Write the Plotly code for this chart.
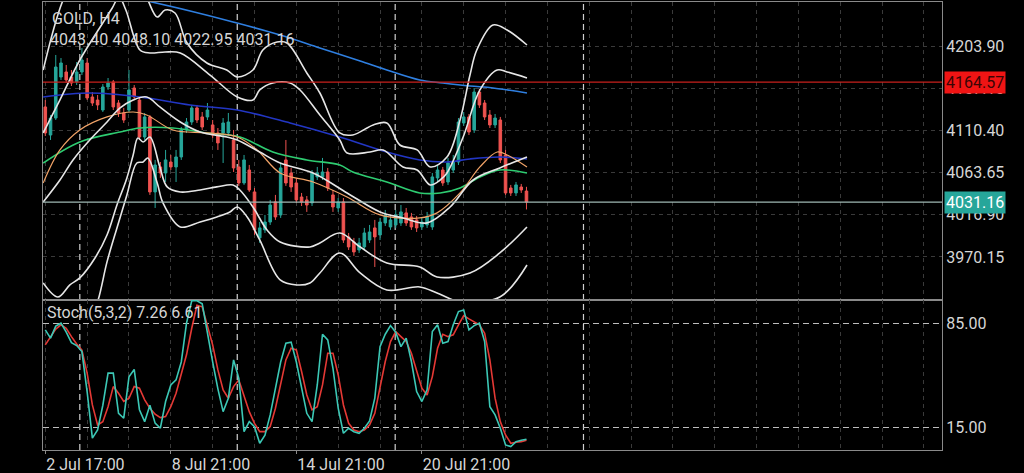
"""GOLD H4 chart: candles with moving averages, Bollinger bands and a Stochastic panel."""
import plotly.graph_objects as go
from plotly.subplots import make_subplots

# --- candles (bar index 0..92, H4) ---
opens = [4136.9, 4105.7, 4124.6, 4170.2, 4175.8, 4170.2, 4164.7, 4175.8, 4185.8, 4148.0,
         4144.6, 4133.5, 4159.1, 4164.7, 4141.3, 4130.2, 4133.5, 4158.0, 4144.6, 4103.5,
         4125.8, 4042.4, 4070.2, 4063.5, 4075.7, 4070.2, 4081.3, 4111.3, 4120.2, 4135.8,
         4125.8, 4125.8, 4116.9, 4108.0, 4108.0, 4108.0, 4100.2, 4070.2, 4052.4, 4066.8,
         4042.4, 3991.3, 4000.2, 4009.0, 4031.3, 4016.8, 4078.0, 4063.5, 4052.4, 4036.8,
         4033.5, 4030.2, 4059.1, 4059.1, 4064.6, 4039.1, 4024.6, 4031.3, 3992.4, 3986.8,
         3977.9, 3981.3, 3989.0, 4002.4, 3994.6, 4007.9, 4003.5, 4005.7, 4007.9, 4019.1,
         4014.6, 4011.3, 4003.5, 4005.7, 4003.5, 4058.0, 4066.8, 4053.5, 4066.8, 4075.7,
         4119.1, 4125.8, 4111.3, 4153.5, 4141.3, 4128.0, 4116.9, 4122.4, 4083.5, 4046.8,
         4041.3, 4047.9, 4043.40]
highs = [4144.6, 4128.0, 4194.7, 4191.3, 4183.6, 4178.0, 4186.9, 4202.4, 4191.3, 4153.5,
         4150.2, 4162.4, 4169.1, 4166.9, 4144.6, 4135.8, 4178.0, 4161.3, 4148.0, 4130.2,
         4128.0, 4078.0, 4075.7, 4089.1, 4083.5, 4089.1, 4114.6, 4124.6, 4139.1, 4139.1,
         4131.3, 4141.3, 4122.4, 4113.5, 4124.6, 4130.2, 4111.3, 4078.0, 4083.5, 4072.4,
         4046.8, 4009.0, 4016.8, 4033.5, 4039.1, 4074.6, 4100.2, 4069.1, 4058.0, 4041.3,
         4037.9, 4066.8, 4070.2, 4080.2, 4069.1, 4044.6, 4035.7, 4035.7, 3996.8, 3991.3,
         3991.3, 4002.4, 4005.7, 4011.3, 4013.5, 4022.4, 4016.8, 4022.4, 4027.9, 4024.6,
         4019.1, 4015.7, 4013.5, 4020.2, 4063.5, 4072.4, 4070.2, 4080.2, 4083.5, 4124.6,
         4131.3, 4129.1, 4158.0, 4156.9, 4144.6, 4133.5, 4129.1, 4125.8, 4089.1, 4050.2,
         4053.5, 4051.3, 4048.10]
lows = [4104.6, 4100.2, 4122.4, 4166.9, 4163.5, 4160.2, 4161.3, 4172.4, 4144.6, 4138.0,
        4133.5, 4131.3, 4155.8, 4133.5, 4125.8, 4119.1, 4131.3, 4144.6, 4100.2, 4100.2,
        4039.1, 4024.6, 4058.0, 4053.5, 4066.8, 4053.5, 4078.0, 4108.0, 4116.9, 4119.1,
        4111.3, 4122.4, 4102.4, 4089.1, 4074.6, 4104.6, 4064.6, 4049.1, 4050.2, 4042.4,
        3994.6, 3985.7, 3996.8, 4005.7, 4011.3, 4013.5, 4049.1, 4042.4, 4030.2, 4026.8,
        4020.2, 4026.8, 4055.7, 4055.7, 4043.5, 4020.2, 4020.2, 3985.7, 3977.9, 3971.3,
        3974.6, 3977.9, 3985.7, 3959.0, 3989.0, 4004.6, 4000.2, 4002.4, 4004.6, 4004.6,
        4000.2, 3997.9, 4000.2, 4002.4, 4000.2, 4053.5, 4049.1, 4050.2, 4063.5, 4072.4,
        4115.8, 4105.7, 4108.0, 4135.8, 4122.4, 4113.5, 4113.5, 4074.6, 4039.1, 4037.9,
        4037.9, 4041.3, 4022.95]
closes = [4108.0, 4124.6, 4181.3, 4185.8, 4166.9, 4163.5, 4175.8, 4189.1, 4146.9, 4141.3,
          4139.1, 4159.1, 4163.5, 4136.9, 4130.2, 4122.4, 4155.8, 4148.0, 4103.5, 4125.8,
          4042.4, 4072.4, 4063.5, 4078.0, 4070.2, 4081.3, 4111.3, 4120.2, 4135.8, 4122.4,
          4114.6, 4133.5, 4105.7, 4096.9, 4119.1, 4120.2, 4069.1, 4052.4, 4078.0, 4044.6,
          4000.2, 4002.4, 4009.0, 4027.9, 4014.6, 4069.1, 4052.4, 4047.9, 4033.5, 4031.3,
          4027.9, 4063.5, 4063.5, 4064.6, 4046.8, 4025.7, 4031.3, 3989.0, 3981.3, 3975.7,
          3985.7, 3996.8, 3997.9, 3992.4, 4009.0, 4016.8, 4011.3, 4016.8, 4020.2, 4007.9,
          4003.5, 4002.4, 4009.0, 4014.6, 4059.1, 4066.8, 4052.4, 4074.6, 4075.7, 4120.2,
          4125.8, 4109.1, 4153.5, 4139.1, 4125.8, 4116.9, 4124.6, 4078.0, 4041.3, 4041.3,
          4050.2, 4044.6, 4031.16]
bars = list(range(len(closes)))

# --- stochastic (5,3,2) ---
stoch_k = [80.5, 75.0, 83.0, 85.0, 79.0, 72.0, 70.0, 66.0, 39.0, 8.0,
           13.5, 30.0, 51.5, 51.5, 24.6, 21.3, 49.0, 54.0, 27.0, 19.0,
           30.0, 18.0, 14.6, 32.5, 43.6, 47.0, 59.0, 85.0, 100.0, 100.0,
           98.0, 77.0, 59.0, 41.0, 25.7, 34.7, 60.4, 48.0, 12.3, 19.0,
           15.7, 4.5, 10.0, 23.5, 41.0, 59.0, 71.6, 72.3, 59.0, 41.0,
           24.6, 19.0, 43.6, 77.6, 73.8, 54.8, 28.0, 11.2, 14.6, 12.3,
           11.2, 14.6, 19.5, 34.7, 69.3, 77.6, 83.4, 79.0, 69.3, 75.0,
           59.3, 39.2, 32.5, 40.3, 79.4, 83.9, 71.6, 72.7, 83.9, 92.8,
           93.9, 80.5, 83.4, 85.0, 72.7, 29.0, 23.5, 14.6, 3.4, 2.3,
           5.6, 6.5, 7.26]
stoch_d = [70.5, 75.4, 81.0, 83.9, 81.6, 76.0, 71.0, 67.0, 51.5, 30.2,
           16.8, 19.0, 29.0, 42.5, 38.0, 32.5, 34.7, 42.5, 41.4, 33.6,
           28.0, 24.0, 21.7, 22.4, 29.0, 38.0, 50.3, 63.8, 81.6, 97.0,
           96.0, 83.9, 70.5, 53.7, 40.3, 34.7, 42.5, 47.0, 36.9, 25.7,
           17.9, 12.3, 12.3, 15.7, 28.0, 44.8, 60.4, 68.2, 67.1, 52.6,
           36.9, 26.9, 29.0, 43.6, 64.9, 64.9, 50.3, 30.2, 17.9, 13.4,
           12.3, 13.4, 16.8, 24.6, 41.4, 59.3, 72.7, 79.4, 76.0, 72.7,
           64.9, 52.6, 41.4, 36.9, 49.2, 68.2, 77.6, 76.0, 77.2, 83.9,
           90.1, 87.9, 85.7, 83.9, 78.3, 60.4, 34.7, 19.0, 10.1, 4.5,
           5.2, 5.6, 6.61]

# --- moving averages (sampled at bar positions) ---
ma_long_x = [-0.4, 15.2, 18.7, 27.7, 35.9, 44.9, 52.5, 60.2, 65.3, 71.6, 76.0, 81.2, 85.6, 92.1]
ma_long_y = [4283.6, 4260.3, 4255.8, 4243.6, 4231.4, 4216.9, 4202.5, 4188.0, 4178.0, 4166.9,
             4163.6, 4160.2, 4158.0, 4152.4]
ma_blue_x = [-0.4, 8.5, 18.1, 27.7, 36.7, 46.8, 56.3, 65.3, 71.6, 76.8, 81.2, 86.9, 92.1]
ma_blue_y = [4148.0, 4152.4, 4148.0, 4139.1, 4133.5, 4119.1, 4103.5, 4086.8, 4078.0, 4075.7,
             4079.1, 4081.3, 4079.1]
ma_green_x = [-0.4, 6.6, 14.3, 18.1, 24.4, 30.9, 37.2, 43.5, 50.0, 56.3, 58.8, 65.3, 71.6,
              75.5, 79.3, 83.1, 86.9, 92.1]
ma_green_y = [4074.6, 4098.0, 4109.1, 4113.5, 4113.5, 4108.0, 4103.5, 4086.8, 4078.0, 4072.4,
              4064.6, 4053.5, 4041.3, 4041.3, 4046.9, 4059.1, 4066.8, 4063.5]
ma_orange_x = [-0.4, 2.8, 6.6, 11.8, 16.8, 19.4, 24.4, 30.9, 36.7, 40.5, 44.9, 51.2, 57.7,
               64.0, 71.6, 74.9, 79.3, 83.1, 86.4, 88.3, 92.1]
ma_orange_y = [4052.4, 4089.1, 4111.3, 4125.8, 4131.3, 4128.0, 4111.3, 4108.0, 4103.5, 4089.1,
               4063.5, 4053.5, 4036.8, 4016.9, 4013.5, 4019.1, 4041.3, 4070.2, 4086.8, 4083.5,
               4070.2]

# --- Bollinger bands ---
bb_mid_x = [-0.4, 2.8, 5.3, 8.5, 11.8, 14.3, 16.8, 19.4, 21.9, 25.8, 29.6, 34.7, 36.7, 41.0,
            44.9, 51.2, 57.7, 64.0, 68.4, 73.0, 77.4, 81.8, 86.9, 92.1]
bb_mid_y = [4031.3, 4055.7, 4078.0, 4100.2, 4120.2, 4135.8, 4144.7, 4148.0, 4136.9, 4120.2,
            4109.1, 4103.5, 4100.2, 4086.8, 4074.6, 4063.5, 4041.3, 4020.2, 4013.5, 4008.0,
            4025.7, 4055.7, 4069.1, 4081.3]
bb_up2_x = [-0.4, 2.8, 6.6, 10.5, 12.8, 14.1, 15.4, 18.1, 20.0, 22.9, 25.8, 31.5, 36.7, 39.7,
            41.0, 43.5, 46.8, 48.7, 52.5, 56.3, 57.7, 62.1, 64.6, 68.4, 71.1, 73.6, 75.5, 76.8,
            79.9, 83.1, 86.4, 88.3, 92.1]
bb_up2_y = [4108.0, 4144.7, 4189.1, 4225.8, 4246.9, 4259.1, 4244.7, 4200.2, 4196.9, 4198.0,
            4196.9, 4172.4, 4148.0, 4144.7, 4155.8, 4163.6, 4163.6, 4155.8, 4128.0, 4100.2,
            4085.7, 4086.8, 4089.1, 4070.2, 4066.8, 4050.2, 4055.7, 4063.5, 4103.5, 4155.8,
            4178.0, 4175.8, 4169.1]
bb_up3_x = [-0.4, 3.4, 6.6, 14.3, 19.1, 21.4, 22.9, 24.8, 27.1, 30.9, 34.7, 36.7, 39.7, 41.6,
            44.3, 46.2, 50.0, 52.5, 56.3, 58.8, 62.7, 65.3, 67.8, 71.1, 73.6, 76.8, 79.3, 81.2,
            82.5, 85.6, 88.3, 92.1]
bb_up3_y = [4178.0, 4255.8, 4289.2, 4300.3, 4261.4, 4236.9, 4244.7, 4241.4, 4208.0, 4185.8,
            4178.0, 4170.2, 4178.0, 4200.2, 4209.1, 4208.0, 4174.7, 4152.4, 4108.0, 4105.8,
            4116.9, 4119.1, 4094.6, 4089.1, 4070.2, 4081.3, 4122.4, 4172.4, 4200.2, 4228.0,
            4222.5, 4205.8]
bb_lo2_x = [-0.4, 2.4, 4.7, 6.6, 9.5, 11.8, 13.7, 15.6, 16.8, 17.7, 18.7, 20.0, 21.9, 23.3,
            25.8, 29.6, 32.8, 35.9, 37.2, 39.7, 42.4, 44.9, 50.6, 52.5, 56.3, 60.2, 65.3, 71.6,
            74.9, 81.2, 86.9, 92.1]
bb_lo2_y = [3941.2, 3925.6, 3939.0, 3946.8, 3969.0, 3994.6, 4028.0, 4058.0, 4083.5, 4102.4,
            4097.9, 4103.5, 4070.2, 4048.0, 4042.4, 4044.6, 4048.0, 4050.2, 4044.6, 4025.7,
            4000.1, 3986.8, 3981.2, 3985.7, 3996.8, 3981.2, 3963.4, 3959.0, 3947.9, 3952.3,
            3974.6, 4003.5]
bb_lo3_x = [8.6, 10.1, 11.8, 13.7, 15.6, 17.5, 18.7, 19.6, 21.4, 22.5, 25.8, 29.6, 32.8, 35.3,
            36.7, 38.6, 41.0, 44.9, 48.1, 50.6, 52.5, 56.3, 60.2, 65.3, 71.6, 74.9, 79.3, 86.9,
            92.1]
bb_lo3_y = [3900.1, 3922.3, 3964.6, 4002.4, 4039.1, 4074.6, 4075.7, 4080.2, 4052.4, 4030.2,
            4003.5, 4009.1, 4014.6, 4020.2, 4025.7, 4014.6, 3989.0, 3944.6, 3939.0, 3941.2,
            3952.3, 3974.6, 3952.3, 3933.4, 3936.8, 3930.1, 3920.1, 3925.6, 3961.2]

# --- levels, axes, labels ---
high_level = 4164.57
last_price = 4031.16
price_ticks = [3970.15, 4016.90, 4063.65, 4110.40, 4157.15, 4203.90]
stoch_levels = [15, 85]
time_ticks = [0, 24, 48, 72]
time_labels = ["2 Jul 17:00", "8 Jul 21:00", "14 Jul 21:00", "20 Jul 21:00"]
week_breaks = [6.6, 36.7, 66.9, 102.9]

TEAL = "#26a69a"
RED = "#ef5350"
GRID = "#3a3a3a"
BORDER = "#8a8a8a"
TEXT = "#d6d6d6"

fig = make_subplots(rows=2, cols=1, shared_xaxes=True, vertical_spacing=0,
                    row_heights=[0.665, 0.335])

fig.add_trace(go.Candlestick(
    x=bars, open=opens, high=highs, low=lows, close=closes,
    increasing=dict(line=dict(color=TEAL, width=1), fillcolor=TEAL),
    decreasing=dict(line=dict(color=RED, width=1), fillcolor=RED),
    hoverinfo="skip",
), row=1, col=1)

# indicator lines: (x, y, colour, width)
lines = [
    (ma_long_x, ma_long_y, "#2f7fe0", 1.6),
    (ma_blue_x, ma_blue_y, "#2236c4", 1.6),
    (ma_green_x, ma_green_y, "#2ecc71", 1.6),
    (ma_orange_x, ma_orange_y, "#f2a468", 1.2),
    (bb_up3_x, bb_up3_y, "#e6e6e6", 1.6),
    (bb_up2_x, bb_up2_y, "#e6e6e6", 1.6),
    (bb_mid_x, bb_mid_y, "#e6e6e6", 1.6),
    (bb_lo2_x, bb_lo2_y, "#e6e6e6", 1.6),
    (bb_lo3_x, bb_lo3_y, "#e6e6e6", 1.6),
]
for xs, ys, color, width in lines:
    fig.add_trace(go.Scatter(x=xs, y=ys, mode="lines", line=dict(color=color, width=width),
                             line_shape="spline", hoverinfo="skip"), row=1, col=1)

fig.add_trace(go.Scatter(x=bars, y=stoch_d, mode="lines", line=dict(color="#e53935", width=1.6),
                         hoverinfo="skip"), row=2, col=1)
fig.add_trace(go.Scatter(x=bars, y=stoch_k, mode="lines", line=dict(color="#3cc8b6", width=1.6),
                         hoverinfo="skip"), row=2, col=1)

# price levels
fig.add_hline(y=high_level, line=dict(color="#c8201c", width=1.2), row=1, col=1)
fig.add_hline(y=last_price, line=dict(color="#9fb8b3", width=1.2), row=1, col=1)

# weekly separators across both panels
for xb in week_breaks:
    fig.add_shape(type="line", xref="x", yref="paper", x0=xb, x1=xb, y0=0, y1=1,
                  line=dict(color="#d0d0d0", width=1.2, dash="6px,4px"), layer="below")

x_range = [-0.44, 171.45]
common_x = dict(range=x_range, showline=True, mirror=True, linecolor=BORDER, linewidth=1,
                tickmode="array", tickvals=time_ticks, showgrid=True, gridcolor=GRID,
                griddash="4px,4px", zeroline=False, automargin=False,
                minor=dict(tickmode="linear", tick0=0, dtick=8, showgrid=True,
                           gridcolor=GRID, griddash="4px,4px"))
fig.update_xaxes(**common_x)
fig.update_xaxes(showticklabels=False, ticks="", rangeslider_visible=False, row=1, col=1)
fig.update_xaxes(ticktext=time_labels, ticklabelposition="outside right", ticks="outside",
                 ticklen=3, tickcolor=BORDER, tickfont=dict(size=16, color=TEXT),
                 row=2, col=1)

fig.update_yaxes(range=[3922.35, 4253.6], side="right", tickmode="array", tickvals=price_ticks,
                 ticktext=[f"{v:.2f}" for v in price_ticks], showgrid=True, gridcolor=GRID,
                 griddash="4px,4px", showline=True, mirror=True, linecolor=BORDER,
                 zeroline=False, automargin=False, tickfont=dict(size=16, color=TEXT),
                 row=1, col=1)
fig.update_yaxes(range=[0, 100.6], side="right", tickmode="array", tickvals=stoch_levels,
                 ticktext=[f"{v:.2f}" for v in stoch_levels], showgrid=True,
                 gridcolor="#bdbdbd", griddash="6px,4px", showline=True, mirror=True,
                 linecolor=BORDER, zeroline=False, automargin=False,
                 tickfont=dict(size=16, color=TEXT), row=2, col=1)

annotations = [
    dict(text="GOLD, H4", x=0.008, y=0.964),
    dict(text="4043.40 4048.10 4022.95 4031.16", x=0.006, y=0.917),
    dict(text="Stoch(5,3,2) 7.26 6.61", x=0.002, y=0.306),
]
for a in annotations:
    fig.add_annotation(xref="paper", yref="paper", xanchor="left", yanchor="middle",
                       showarrow=False, font=dict(size=16, color=TEXT, family="Roboto"), **a)

fig.add_annotation(xref="paper", yref="y", x=1, y=high_level, xanchor="left", xshift=2,
                   text=f"{high_level:.2f}", showarrow=False, bgcolor="#f01414", borderpad=1,
                   font=dict(size=16, color="#3a0505", family="Roboto"))
fig.add_annotation(xref="paper", yref="y", x=1, y=last_price, xanchor="left", xshift=2,
                   text=f"{last_price:.2f}", showarrow=False, bgcolor="#26a69a", borderpad=1,
                   font=dict(size=16, color="#ffffff", family="Roboto"))

fig.update_layout(
    width=1024, height=473,
    margin=dict(l=43, r=82, t=2, b=23, autoexpand=False),
    paper_bgcolor="black", plot_bgcolor="black",
    showlegend=False,
    font=dict(family="Roboto", color=TEXT, size=16),
    xaxis_rangeslider_visible=False,
)

# the page's default body margin would shift the chart; remove it
fig.write_html("out.html", config={"displayModeBar": False},
               post_script="document.body.style.margin='0';"
                           "document.body.style.background='black';")
